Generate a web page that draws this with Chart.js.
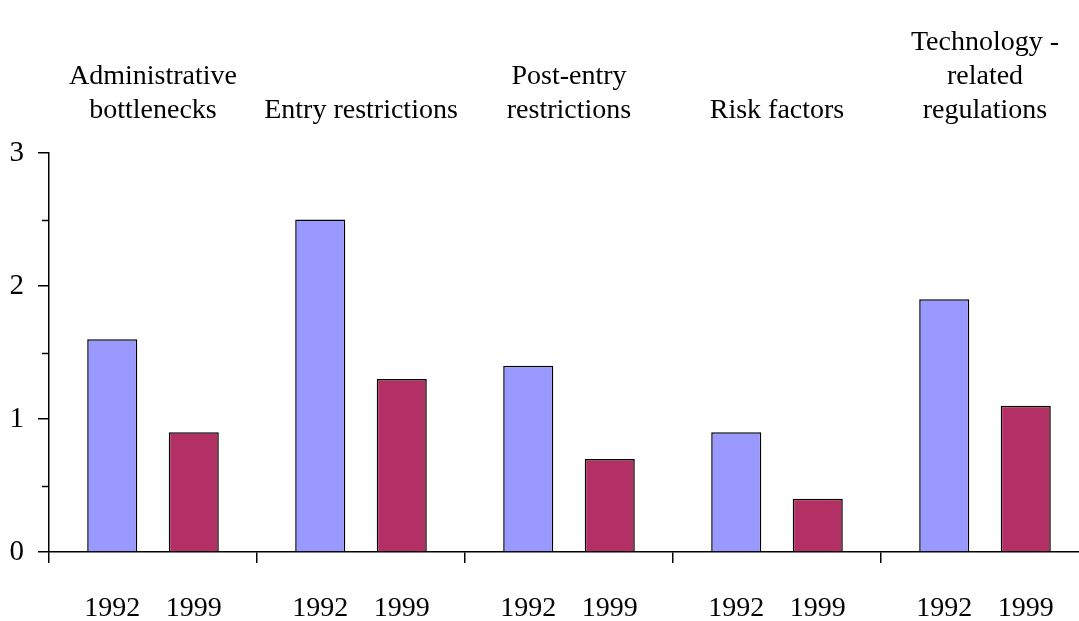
<!DOCTYPE html>
<html>
<head>
<meta charset="utf-8">
<script src="https://cdn.jsdelivr.net/npm/chart.js@4/dist/chart.umd.min.js"></script>
<style>
html,body{margin:0;padding:0;background:#fff;overflow:hidden;}
#wrap{position:absolute;left:0;top:0;}
</style>
</head>
<body>
<div id="wrap"><canvas id="c" width="1095" height="621"></canvas></div>
<script>
const groups = [["Administrative","bottlenecks"],["Entry restrictions"],["Post-entry","restrictions"],["Risk factors"],["Technology -","related","regulations"]];
const years = ["1992","1999"];
const v1992 = [1.6, 2.5, 1.4, 0.9, 1.9];
const v1999 = [0.9, 1.3, 0.7, 0.4, 1.1];
const yTicks = [0, 1, 2, 3];

const FONT = '"Liberation Serif", "Times New Roman", serif';
const FS = 28;

const extras = {
  id: 'extras',
  afterDraw(chart) {
    const ctx = chart.ctx;
    const ca = chart.chartArea;
    const ys = chart.scales.y;
    ctx.save();
    // minor y ticks
    ctx.strokeStyle = '#000';
    ctx.lineWidth = 1.5;
    ys.ticks.forEach(t => {
      if (!Number.isInteger(t.value)) {
        const py = Math.round(ys.getPixelForValue(t.value)) + 0.5;
        ctx.beginPath();
        ctx.moveTo(ca.left - 7, py);
        ctx.lineTo(ca.left, py);
        ctx.stroke();
      }
    });
    // year labels under bars
    ctx.font = FS + 'px ' + FONT;
    ctx.fillStyle = '#000';
    ctx.textAlign = 'center';
    ctx.textBaseline = 'middle';
    chart.data.datasets.forEach((ds, i) => {
      chart.getDatasetMeta(i).data.forEach(bar => {
        ctx.fillText(years[i], bar.x, ca.bottom + 57);
      });
    });
    ctx.restore();
  }
};

new Chart(document.getElementById('c'), {
  type: 'bar',
  data: {
    labels: groups.map(g => g.join(' ')),
    datasets: [
      { label: years[0], data: v1992, backgroundColor: '#9999FF', borderColor: '#000', borderWidth: 1.5, xAxisID: 'x', categoryPercentage: 0.784, barPercentage: 0.614 },
      { label: years[1], data: v1999, backgroundColor: '#B23064', borderColor: '#000', borderWidth: 1.5, xAxisID: 'x', categoryPercentage: 0.784, barPercentage: 0.614 }
    ]
  },
  options: {
    responsive: false,
    animation: false,
    devicePixelRatio: 1,
    layout: { padding: { left: 0, right: 6, top: 0, bottom: 0 } },
    plugins: { legend: { display: false }, tooltip: { enabled: false } },
    scales: {
      x: {
        position: 'bottom',
        offset: true,
        grid: { display: true, drawOnChartArea: false, drawTicks: true, tickLength: 11, color: '#000', lineWidth: 1.5, offset: true },
        border: { display: true, color: '#000', width: 1.5 },
        ticks: { display: false },
        afterFit(s) { s.height = 69; }
      },
      x2: {
        type: 'category',
        position: 'top',
        labels: groups,
        offset: true,
        grid: { display: false, drawTicks: false },
        border: { display: false },
        ticks: { color: '#000', font: { family: FONT, size: FS, lineHeight: 1.2 }, padding: 26, maxRotation: 0, autoSkip: false },
        afterFit(s) { s.height = 153; }
      },
      y: {
        min: 0, max: 3,
        grid: { drawOnChartArea: false, drawTicks: true, tickLength: 11, lineWidth: 1.5,
          color: (c) => (c.tick && Number.isInteger(c.tick.value)) ? '#000' : 'rgba(0,0,0,0)' },
        border: { display: true, color: '#000', width: 1.5 },
        ticks: {
          stepSize: 0.5,
          color: '#000',
          padding: 14,
          font: { family: FONT, size: 29 },
          callback: (v) => yTicks.includes(v) ? String(v) : ''
        },
        afterFit(s) { s.width = 49; }
      }
    }
  },
  plugins: [extras]
});
</script>
</body>
</html>
